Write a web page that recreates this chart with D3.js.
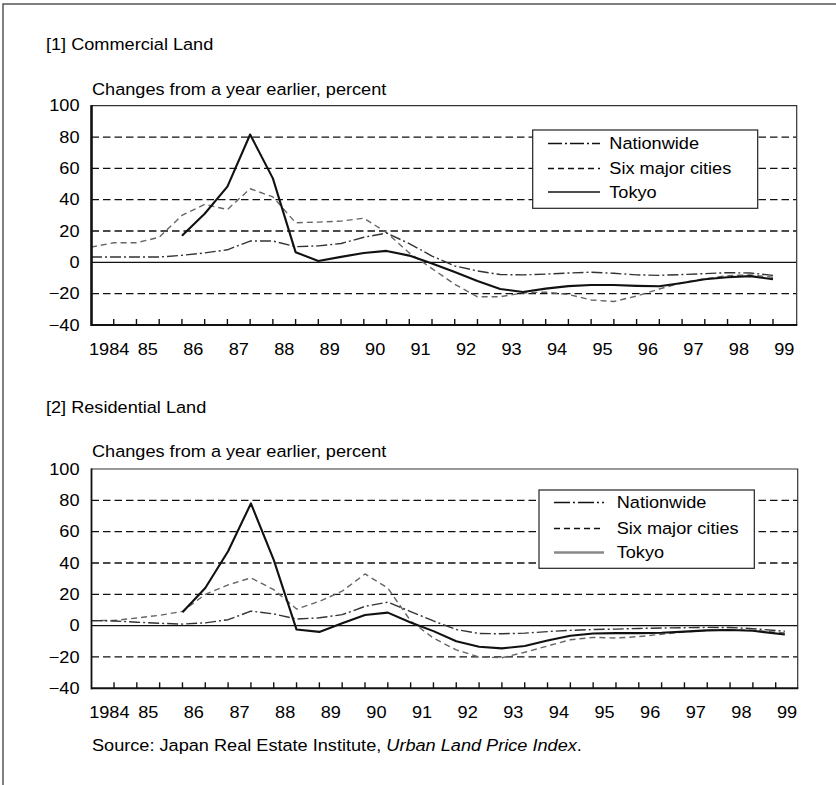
<!DOCTYPE html>
<html><head><meta charset="utf-8">
<script src="https://cdn.jsdelivr.net/npm/d3@7"></script>
<style>
html,body{margin:0;padding:0;background:#fff;}
svg{display:block;font-family:"Liberation Sans",Arial,sans-serif;}
</style></head>
<body>
<script>
// ---------- DATA ----------
const seriesNames = ["Nationwide", "Six major cities", "Tokyo"];
const yTicks = [100, 80, 60, 40, 20, 0, -20, -40];
const gridValues = [80, 60, 40, 20, -20];
const yearLabels = ["1984","85","86","87","88","89","90","91","92","93","94","95","96","97","98","99"];
const labelYears = [1984,1985,1986,1987,1988,1989,1990,1991,1992,1993,1994,1995,1996,1997,1998,1999];
const tickPeriods = [1984.5,1985,1985.5,1986,1986.5,1987,1987.5,1988,1988.5,1989,1989.5,1990,1990.5,1991,1991.5,1992,1992.5,1993,1993.5,1994,1994.5,1995,1995.5,1996,1996.5,1997,1997.5,1998,1998.5,1999];

// [1] Commercial land (half-yearly)
const comPeriods = [1984,1984.5,1985,1985.5,1986,1986.5,1987,1987.5,1988,1988.5,1989,1989.5,1990,1990.5,1991,1991.5,1992,1992.5,1993,1993.5,1994,1994.5,1995,1995.5,1996,1996.5,1997,1997.5,1998,1998.5,1999];
const comNationwide = [3.4,3.4,3.4,3.4,4.5,6,8,13.6,13.6,10,10.5,12,16,18.7,12,4,-2.3,-5.5,-7.8,-8,-7.5,-6.8,-6.3,-7,-8,-8.3,-7.8,-7.2,-6.6,-6.8,-8.3];
const comSixCities = [9.7,12.5,12.5,16,30,37,33.7,47,41.8,25.3,25.7,26.3,28.2,19,6,-4,-14,-22,-22,-19.5,-19,-20.5,-24,-25,-21.5,-17,-13,-10.5,-8.5,-8,-9.5];
const comTokyo = [null,null,null,null,17,31,48.3,81.6,53.6,6.5,0.8,3.5,6,7.3,4.3,-0.8,-6.2,-11.9,-17,-18.9,-16.8,-15.2,-14.5,-14.5,-15,-15.3,-13.2,-10.8,-9.5,-8.8,-10.8];

// [2] Residential land (half-yearly)
const resPeriods = [1984,1984.5,1985,1985.5,1986,1986.5,1987,1987.5,1988,1988.5,1989,1989.5,1990,1990.5,1991,1991.5,1992,1992.5,1993,1993.5,1994,1994.5,1995,1995.5,1996,1996.5,1997,1997.5,1998,1998.5,1999.2];
const resNationwide = [3.2,3,2.2,1.5,1,1.8,3.8,9.3,7.5,4.2,5,7,12.3,15,9,3,-2.5,-5,-5.2,-4.8,-3.8,-3,-2.5,-2.2,-1.8,-1.5,-1.3,-1.1,-1.2,-1.9,-3.6];
const resSixCities = [3.2,3.3,4.9,6.6,9.1,20,26,30.5,23,10.6,15.5,22,33,24,3,-8,-15.5,-20,-20.5,-17,-13,-9,-7.5,-7.9,-7,-5.5,-4,-3,-2.6,-3,-4.7];
const resTokyo = [null,null,null,null,8.5,24,47.5,78,42,-2.5,-4,1.5,6.8,8.3,2,-3.5,-10,-13.5,-14.5,-13,-9.5,-6.5,-5,-4.8,-4.8,-4.5,-3.8,-3,-2.8,-3.3,-5.7];

// ---------- DRAW ----------
const W = 836, H = 785;
const FS = 16.5, STRETCH = 1.1;
const svg = d3.select("body").append("svg").attr("width", W).attr("height", H);
svg.append("rect").attr("width", W).attr("height", H).attr("fill", "#fff");

// outer frame (top + left)
svg.append("path").attr("d", d3.line()([[3, 785], [3, 4], [836, 4]]))
  .attr("fill", "none").attr("stroke", "#555").attr("stroke-width", 1.5);

const styles = {
  "Nationwide": {stroke: "#333", width: 1.4, dash: "11,3,2,3"},
  "Six major cities": {stroke: "#666", width: 1.4, dash: "6,4"},
  "Tokyo": {stroke: "#111", width: 2.1, dash: null}
};

function panel(cfg) {
  const g = svg.append("g");
  const x = d3.scaleLinear().domain([1984, 1999]).range([cfg.x0, cfg.x1]);
  const y = d3.scaleLinear().domain([-40, 100]).range([cfg.bottom, cfg.top]);
  const left = cfg.left, right = cfg.right;

  // titles
  g.append("text").attr("x", 46).attr("y", cfg.titleY).attr("font-size", FS).attr("fill", "#000").text(cfg.title);
  g.append("text").attr("x", 92).attr("y", cfg.unitY).attr("font-size", FS).attr("fill", "#000").text("Changes from a year earlier, percent");

  // grid
  g.selectAll(".grid").data(gridValues).enter().append("line")
    .attr("x1", left).attr("x2", right).attr("y1", d => y(d)).attr("y2", d => y(d))
    .attr("stroke", "#111").attr("stroke-width", 1.3).attr("stroke-dasharray", "7.5,4");
  g.append("line").attr("x1", left).attr("x2", right).attr("y1", y(0)).attr("y2", y(0))
    .attr("stroke", "#111").attr("stroke-width", 1.1);

  // y axis labels via d3 axis
  const yAxis = d3.axisLeft(y).tickValues(yTicks).tickSize(0).tickPadding(12)
    .tickFormat(d => d < 0 ? "\u2212" + Math.abs(d) : String(d));
  const ya = g.append("g").attr("transform", `translate(${left},0)`).call(yAxis);
  ya.select(".domain").remove();
  ya.selectAll("text").attr("font-size", FS).attr("font-family", "Liberation Sans, Arial, sans-serif").attr("fill", "#000");

  // half-year ticks (inward)
  g.selectAll(".tk").data(tickPeriods).enter().append("line")
    .attr("x1", d => x(d)).attr("x2", d => x(d))
    .attr("y1", cfg.bottom).attr("y2", cfg.bottom - 6)
    .attr("stroke", "#111").attr("stroke-width", 1.4);

  // x labels
  g.selectAll(".xl").data(labelYears).enter().append("text")
    .attr("x", (d, i) => i === 0 ? x(d) - 2 : x(d + 0.25))
    .attr("y", cfg.bottom + 30)
    .attr("text-anchor", (d, i) => i === 0 ? "start" : "middle")
    .attr("font-size", FS).attr("fill", "#000")
    .text((d, i) => yearLabels[i]);

  // series
  const data = {
    "Nationwide": cfg.nationwide,
    "Six major cities": cfg.six,
    "Tokyo": cfg.tokyo
  };
  const line = d3.line().defined(d => d[1] !== null).x(d => x(d[0])).y(d => y(d[1]));
  ["Six major cities", "Nationwide", "Tokyo"].forEach(name => {
    const st = styles[name];
    const pts = cfg.periods.map((p, i) => [p, data[name][i]]);
    g.append("path").datum(pts).attr("d", line)
      .attr("fill", "none").attr("stroke", st.stroke).attr("stroke-width", st.width)
      .attr("stroke-dasharray", st.dash).attr("stroke-linejoin", "round");
  });

  // plot frame
  g.append("path").attr("d", d3.line()([[left, cfg.top], [right, cfg.top], [right, cfg.bottom]]))
    .attr("fill", "none").attr("stroke", "#333").attr("stroke-width", 1.2);
  g.append("line").attr("x1", left).attr("x2", right + 0.6).attr("y1", cfg.bottom).attr("y2", cfg.bottom)
    .attr("stroke", "#111").attr("stroke-width", 2);
  g.append("line").attr("x1", left).attr("x2", left).attr("y1", cfg.top - 0.6).attr("y2", cfg.bottom + 1)
    .attr("stroke", "#111").attr("stroke-width", cfg.axisW);

  // legend
  const L = cfg.legend;
  g.append("rect").attr("x", L.x).attr("y", L.y).attr("width", L.w).attr("height", L.h)
    .attr("fill", "#fff").attr("stroke", "#222").attr("stroke-width", 1.2);
  seriesNames.forEach((name, i) => {
    const st = styles[name];
    const yy = L.rows[i];
    g.append("line").attr("x1", L.sx0).attr("x2", L.sx1).attr("y1", yy).attr("y2", yy)
      .attr("stroke", name === "Tokyo" ? L.tokyoColor : "#111")
      .attr("stroke-width", name === "Tokyo" ? L.tokyoW : 1.3)
      .attr("stroke-dasharray", name === "Nationwide" ? L.natDash : st.dash);
    g.append("text").attr("x", L.tx).attr("y", yy + 6).attr("font-size", FS).attr("fill", "#000").text(name);
  });
}

panel({
  title: "[1] Commercial Land", titleY: 50.5, unitY: 95.5,
  top: 105.7, bottom: 325, left: 91.5, right: 796.7, x0: 91, x1: 773, axisW: 2.6,
  periods: comPeriods, nationwide: comNationwide, six: comSixCities, tokyo: comTokyo,
  legend: {x: 532.7, y: 130, w: 225, h: 78.3, rows: [143.5, 168.5, 192], sx0: 548, sx1: 600, tx: 609.3,
           tokyoColor: "#111", tokyoW: 1.6, natDash: "14,3,2,3"}
});
panel({
  title: "[2] Residential Land", titleY: 413.5, unitY: 457.5,
  top: 469, bottom: 688.3, left: 91.5, right: 797.7, x0: 91.2, x1: 775.7, axisW: 1.8,
  periods: resPeriods, nationwide: resNationwide, six: resSixCities, tokyo: resTokyo,
  legend: {x: 539, y: 490, w: 215.3, h: 78.3, rows: [502.5, 528.5, 552.5], sx0: 554, sx1: 604, tx: 616.7,
           tokyoColor: "#888", tokyoW: 2.6, natDash: "16,3,2,3"}
});

// source
const src = svg.append("text").attr("x", 92).attr("y", 751.5).attr("font-size", FS).attr("fill", "#000");
src.append("tspan").text("Source: Japan Real Estate Institute, ");
src.append("tspan").attr("font-style", "italic").text("Urban Land Price Index");
src.append("tspan").text(".");

// slight horizontal stretch of glyphs (scale about each text's anchor x)
svg.selectAll("text").each(function() {
  const ax = +(this.getAttribute("x") || 0);
  d3.select(this).attr("transform", `translate(${(ax * (1 - STRETCH)).toFixed(2)},0) scale(${STRETCH},1)`);
});
</script>
</body></html>
